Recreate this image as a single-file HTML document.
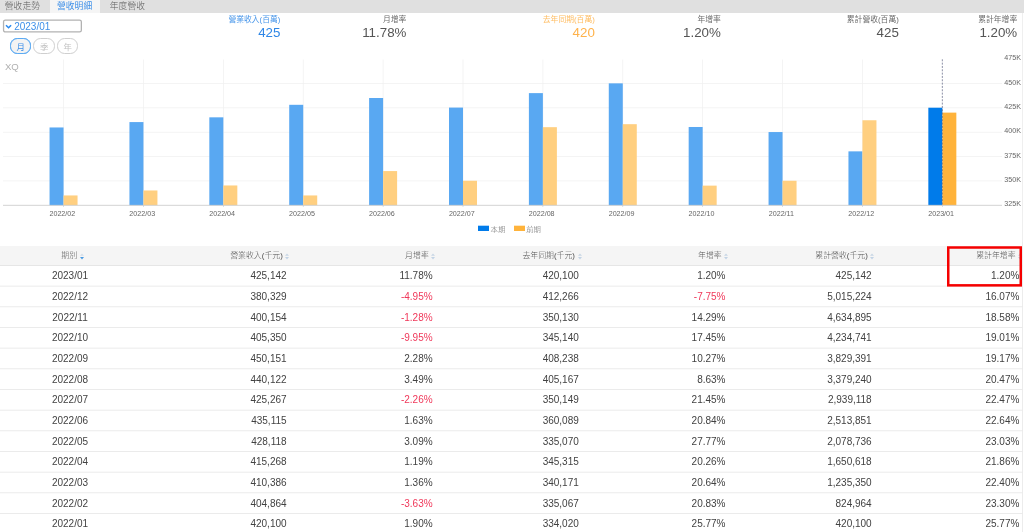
<!DOCTYPE html>
<html lang="zh-Hant"><head><meta charset="utf-8"><title>營收明細</title>
<style>
html,body{margin:0;padding:0;}
body{width:1024px;height:532px;overflow:hidden;background:#fff;position:relative;font-family:"Liberation Sans","Noto Sans CJK TC",sans-serif;color:#444;}
.tabs{position:absolute;left:0;top:0;width:1024px;height:13px;background:#e0e0e0;}
.tab{font-weight:300;position:absolute;top:0;height:13px;width:50px;text-align:center;font-size:8.75px;line-height:13px;color:#5a5a5a;letter-spacing:0.1px;}
.tab.on{background:#f5f5f5;color:#3d8fe8;font-weight:400;}
.sel{position:absolute;left:3px;top:20px;width:79px;height:12px;}
.selbox{position:absolute;left:0;top:14px;}
.sel span{position:absolute;left:11.2px;top:0.6px;font-size:10px;line-height:12px;color:#3d8fe8;}
.sel svg{position:absolute;left:1.8px;top:3.7px;}
.pill{position:absolute;top:38.2px;height:13.8px;width:19.4px;border:0.8px solid #cfcfcf;border-radius:7.6px;font-size:8.4px;line-height:16px;text-align:center;color:#c2c2c2;background:#fff;}
.pill.on{font-weight:400;border-color:#5aaaf3;background:#f3f3f3;color:#3d8fe8;box-shadow:0 0 0.5px #4a9df0;}
.stat{position:absolute;top:14.9px;text-align:right;white-space:nowrap;}
.stat .l{font-size:7.8px;line-height:10px;color:#6c6c6c;}
.stat .v{font-size:13.33px;line-height:16px;color:#555;margin-top:-0.2px;}
.stat.b .v{color:#2e86e6;}
.stat.b .l{color:#4896ea;}
.stat.o .v{color:#ffb24a;}
.stat.o .l{color:#ffbd63;}
.chart{position:absolute;left:0;top:50px;}
.chart text{font-family:"Liberation Sans","Noto Sans CJK TC",sans-serif;}
.xl{font-size:7.15px;fill:#666;}
.yl{font-size:7.15px;fill:#666;}
.xq{font-size:9.6px;fill:#b0b0b0;}
.lg{font-size:7.33px;fill:#666;font-weight:300;}
.th{position:absolute;left:0;top:246.2px;width:1022px;height:18.8px;background:#f5f5f5;}
.th .c{font-weight:300;position:absolute;top:0;height:18.8px;line-height:20px;font-size:7.9px;color:#505050;}
.si{display:inline-block;margin-left:2.6px;vertical-align:-2.2px;}
.tb{position:absolute;left:0;top:265.5px;width:1024px;}
.tr{position:absolute;left:0;width:1024px;height:20px;}
.ln{position:absolute;left:0;top:242px;}
.tr .c{position:absolute;top:0;height:20px;line-height:20px;font-size:10px;color:#424242;}
.c{text-align:right;white-space:nowrap;}
.c0{left:0;width:140px;text-align:center;}
.th .c0{left:0;width:145px;}
.c1{left:140px;width:146.6px;}
.c2{left:286px;width:146.6px;}
.c3{left:432px;width:146.8px;}
.c4{left:578px;width:147.5px;}
.c5{left:724px;width:147.7px;}
.c6{left:871px;width:148.4px;}
.th .c1,.th .c2,.th .c3,.th .c4,.th .c5,.th .c6{margin-left:2.8px;}
.tr .c.neg{color:#f0385a;}
.redb{position:absolute;left:940px;top:242px;}
.rb{position:absolute;left:1022px;top:13px;width:1px;height:229px;background:#efefef;}
</style></head><body>
<div class="tabs"><div class="tab" style="left:-2.6px">營收走勢</div><div class="tab on" style="left:49.6px">營收明細</div><div class="tab" style="left:102.4px">年度營收</div></div>
<svg class="selbox" width="90" height="24" viewBox="0 14 90 24"><rect x="3.55" y="20.05" width="77.8" height="11.9" rx="1.8" fill="#fff" stroke="#b2b2b2" stroke-width="1.3"/></svg>
<div class="sel"><svg width="8" height="6" viewBox="0 0 8 6"><path d="M1 1.2 L3.55 3.7 L6.1 1.2" fill="none" stroke="#2a8af0" stroke-width="1.6"/></svg><span>2023/01</span></div>
<div class="pill on" style="left:10px">月</div><div class="pill" style="left:33.4px">季</div><div class="pill" style="left:57px">年</div>
<div class="stat b" style="right:743.6px"><div class="l">營業收入(百萬)</div><div class="v">425</div></div>
<div class="stat" style="right:617.6px"><div class="l">月增率</div><div class="v">11.78%</div></div>
<div class="stat o" style="right:429.2px"><div class="l">去年同期(百萬)</div><div class="v">420</div></div>
<div class="stat" style="right:303.2px"><div class="l">年增率</div><div class="v">1.20%</div></div>
<div class="stat" style="right:125.2px"><div class="l">累計營收(百萬)</div><div class="v">425</div></div>
<div class="stat" style="right:6.8px"><div class="l">累計年增率</div><div class="v">1.20%</div></div>
<svg class="chart" width="1024" height="190" viewBox="0 50 1024 190">
<rect x="3" y="83.15" width="999" height="0.7" fill="#efefef"/>
<rect x="3" y="107.50" width="999" height="0.7" fill="#efefef"/>
<rect x="3" y="131.85" width="999" height="0.7" fill="#efefef"/>
<rect x="3" y="156.20" width="999" height="0.7" fill="#efefef"/>
<rect x="3" y="180.55" width="999" height="0.7" fill="#efefef"/>
<rect x="63.20" y="59.5" width="0.7" height="145.7" fill="#efefef"/>
<rect x="143.09" y="59.5" width="0.7" height="145.7" fill="#efefef"/>
<rect x="222.98" y="59.5" width="0.7" height="145.7" fill="#efefef"/>
<rect x="302.87" y="59.5" width="0.7" height="145.7" fill="#efefef"/>
<rect x="382.76" y="59.5" width="0.7" height="145.7" fill="#efefef"/>
<rect x="462.65" y="59.5" width="0.7" height="145.7" fill="#efefef"/>
<rect x="542.54" y="59.5" width="0.7" height="145.7" fill="#efefef"/>
<rect x="622.43" y="59.5" width="0.7" height="145.7" fill="#efefef"/>
<rect x="702.32" y="59.5" width="0.7" height="145.7" fill="#efefef"/>
<rect x="782.21" y="59.5" width="0.7" height="145.7" fill="#efefef"/>
<rect x="862.10" y="59.5" width="0.7" height="145.7" fill="#efefef"/>
<rect x="49.55" y="127.46" width="14.00" height="77.79" fill="#59a8f2"/>
<rect x="63.55" y="195.44" width="14.00" height="9.81" fill="#ffcf80"/>
<rect x="129.44" y="122.08" width="14.00" height="83.17" fill="#59a8f2"/>
<rect x="143.44" y="190.47" width="14.00" height="14.78" fill="#ffcf80"/>
<rect x="209.33" y="117.33" width="14.00" height="87.92" fill="#59a8f2"/>
<rect x="223.33" y="185.46" width="14.00" height="19.79" fill="#ffcf80"/>
<rect x="289.22" y="104.81" width="14.00" height="100.44" fill="#59a8f2"/>
<rect x="303.22" y="195.44" width="14.00" height="9.81" fill="#ffcf80"/>
<rect x="369.11" y="98.00" width="14.00" height="107.25" fill="#59a8f2"/>
<rect x="383.11" y="171.07" width="14.00" height="34.18" fill="#ffcf80"/>
<rect x="449.00" y="107.59" width="14.00" height="97.66" fill="#59a8f2"/>
<rect x="463.00" y="180.75" width="14.00" height="24.50" fill="#ffcf80"/>
<rect x="528.89" y="93.12" width="14.00" height="112.13" fill="#59a8f2"/>
<rect x="542.89" y="127.17" width="14.00" height="78.08" fill="#ffcf80"/>
<rect x="608.78" y="83.35" width="14.00" height="121.90" fill="#59a8f2"/>
<rect x="622.78" y="124.18" width="14.00" height="81.07" fill="#ffcf80"/>
<rect x="688.67" y="126.99" width="14.00" height="78.26" fill="#59a8f2"/>
<rect x="702.67" y="185.63" width="14.00" height="19.62" fill="#ffcf80"/>
<rect x="768.56" y="132.05" width="14.00" height="73.20" fill="#59a8f2"/>
<rect x="782.56" y="180.77" width="14.00" height="24.48" fill="#ffcf80"/>
<rect x="848.45" y="151.36" width="14.00" height="53.89" fill="#59a8f2"/>
<rect x="862.45" y="120.25" width="14.00" height="85.00" fill="#ffcf80"/>
<rect x="928.34" y="107.71" width="14.00" height="97.54" fill="#007bea"/>
<rect x="942.34" y="112.62" width="14.00" height="92.63" fill="#ffb33b"/>
<rect x="3" y="204.85" width="999" height="0.8" fill="#c8c8c8"/>
<rect x="63.20" y="205.25" width="0.7" height="1.6" fill="#c8c8c8"/>
<text x="62.35" y="216.2" text-anchor="middle" class="xl">2022/02</text>
<rect x="143.09" y="205.25" width="0.7" height="1.6" fill="#c8c8c8"/>
<text x="142.24" y="216.2" text-anchor="middle" class="xl">2022/03</text>
<rect x="222.98" y="205.25" width="0.7" height="1.6" fill="#c8c8c8"/>
<text x="222.13" y="216.2" text-anchor="middle" class="xl">2022/04</text>
<rect x="302.87" y="205.25" width="0.7" height="1.6" fill="#c8c8c8"/>
<text x="302.02" y="216.2" text-anchor="middle" class="xl">2022/05</text>
<rect x="382.76" y="205.25" width="0.7" height="1.6" fill="#c8c8c8"/>
<text x="381.91" y="216.2" text-anchor="middle" class="xl">2022/06</text>
<rect x="462.65" y="205.25" width="0.7" height="1.6" fill="#c8c8c8"/>
<text x="461.80" y="216.2" text-anchor="middle" class="xl">2022/07</text>
<rect x="542.54" y="205.25" width="0.7" height="1.6" fill="#c8c8c8"/>
<text x="541.69" y="216.2" text-anchor="middle" class="xl">2022/08</text>
<rect x="622.43" y="205.25" width="0.7" height="1.6" fill="#c8c8c8"/>
<text x="621.58" y="216.2" text-anchor="middle" class="xl">2022/09</text>
<rect x="702.32" y="205.25" width="0.7" height="1.6" fill="#c8c8c8"/>
<text x="701.47" y="216.2" text-anchor="middle" class="xl">2022/10</text>
<rect x="782.21" y="205.25" width="0.7" height="1.6" fill="#c8c8c8"/>
<text x="781.36" y="216.2" text-anchor="middle" class="xl">2022/11</text>
<rect x="862.10" y="205.25" width="0.7" height="1.6" fill="#c8c8c8"/>
<text x="861.25" y="216.2" text-anchor="middle" class="xl">2022/12</text>
<rect x="941.99" y="205.25" width="0.7" height="1.6" fill="#c8c8c8"/>
<text x="941.14" y="216.2" text-anchor="middle" class="xl">2023/01</text>
<line x1="942.34" y1="59.3" x2="942.34" y2="205.25" stroke="#5a607f" stroke-width="0.7" stroke-dasharray="2 1.33"/>
<text x="1004.3" y="59.75" class="yl">475K</text>
<text x="1004.3" y="84.60" class="yl">450K</text>
<text x="1004.3" y="108.95" class="yl">425K</text>
<text x="1004.3" y="133.30" class="yl">400K</text>
<text x="1004.3" y="157.65" class="yl">375K</text>
<text x="1004.3" y="182.00" class="yl">350K</text>
<text x="1004.3" y="206.35" class="yl">325K</text>
<text x="4.9" y="69.9" class="xq">XQ</text>
<rect x="478" y="225.7" width="11" height="5.3" fill="#007bea"/>
<text x="490.6" y="231.6" class="lg">本期</text>
<rect x="514" y="225.7" width="11" height="5.3" fill="#ffb33b"/>
<text x="526.3" y="231.6" class="lg">前期</text>
</svg>
<div class="th"><div class="c c0"><span>期別</span><svg class="si" width="4" height="7" viewBox="0 0 4 7"><path d="M0 2.7 L2 0.5 L4 2.7Z" fill="#d3dde8"/><path d="M0 3.9 L2 6.6 L4 3.9Z" fill="#4a9be2"/></svg></div><div class="c c1"><span>營業收入(千元)</span><svg class="si" width="4" height="7" viewBox="0 0 4 7"><path d="M0 2.7 L2 0.5 L4 2.7Z" fill="#c8d6e5"/><path d="M0 3.9 L2 6.6 L4 3.9Z" fill="#c2d3e5"/></svg></div><div class="c c2"><span>月增率</span><svg class="si" width="4" height="7" viewBox="0 0 4 7"><path d="M0 2.7 L2 0.5 L4 2.7Z" fill="#c8d6e5"/><path d="M0 3.9 L2 6.6 L4 3.9Z" fill="#c2d3e5"/></svg></div><div class="c c3"><span>去年同期(千元)</span><svg class="si" width="4" height="7" viewBox="0 0 4 7"><path d="M0 2.7 L2 0.5 L4 2.7Z" fill="#c8d6e5"/><path d="M0 3.9 L2 6.6 L4 3.9Z" fill="#c2d3e5"/></svg></div><div class="c c4"><span>年增率</span><svg class="si" width="4" height="7" viewBox="0 0 4 7"><path d="M0 2.7 L2 0.5 L4 2.7Z" fill="#c8d6e5"/><path d="M0 3.9 L2 6.6 L4 3.9Z" fill="#c2d3e5"/></svg></div><div class="c c5"><span>累計營收(千元)</span><svg class="si" width="4" height="7" viewBox="0 0 4 7"><path d="M0 2.7 L2 0.5 L4 2.7Z" fill="#c8d6e5"/><path d="M0 3.9 L2 6.6 L4 3.9Z" fill="#c2d3e5"/></svg></div><div class="c c6"><span>累計年增率</span><svg class="si" width="4" height="7" viewBox="0 0 4 7"><path d="M0 2.7 L2 0.5 L4 2.7Z" fill="#c8d6e5"/><path d="M0 3.9 L2 6.6 L4 3.9Z" fill="#c2d3e5"/></svg></div></div>
<div class="tb">
<div class="tr" style="top:0.90px"><div class="c c0">2023/01</div><div class="c c1">425,142</div><div class="c c2">11.78%</div><div class="c c3">420,100</div><div class="c c4">1.20%</div><div class="c c5">425,142</div><div class="c c6">1.20%</div></div>
<div class="tr" style="top:21.57px"><div class="c c0">2022/12</div><div class="c c1">380,329</div><div class="c c2 neg">-4.95%</div><div class="c c3">412,266</div><div class="c c4 neg">-7.75%</div><div class="c c5">5,015,224</div><div class="c c6">16.07%</div></div>
<div class="tr" style="top:42.24px"><div class="c c0">2022/11</div><div class="c c1">400,154</div><div class="c c2 neg">-1.28%</div><div class="c c3">350,130</div><div class="c c4">14.29%</div><div class="c c5">4,634,895</div><div class="c c6">18.58%</div></div>
<div class="tr" style="top:62.91px"><div class="c c0">2022/10</div><div class="c c1">405,350</div><div class="c c2 neg">-9.95%</div><div class="c c3">345,140</div><div class="c c4">17.45%</div><div class="c c5">4,234,741</div><div class="c c6">19.01%</div></div>
<div class="tr" style="top:83.58px"><div class="c c0">2022/09</div><div class="c c1">450,151</div><div class="c c2">2.28%</div><div class="c c3">408,238</div><div class="c c4">10.27%</div><div class="c c5">3,829,391</div><div class="c c6">19.17%</div></div>
<div class="tr" style="top:104.25px"><div class="c c0">2022/08</div><div class="c c1">440,122</div><div class="c c2">3.49%</div><div class="c c3">405,167</div><div class="c c4">8.63%</div><div class="c c5">3,379,240</div><div class="c c6">20.47%</div></div>
<div class="tr" style="top:124.92px"><div class="c c0">2022/07</div><div class="c c1">425,267</div><div class="c c2 neg">-2.26%</div><div class="c c3">350,149</div><div class="c c4">21.45%</div><div class="c c5">2,939,118</div><div class="c c6">22.47%</div></div>
<div class="tr" style="top:145.59px"><div class="c c0">2022/06</div><div class="c c1">435,115</div><div class="c c2">1.63%</div><div class="c c3">360,089</div><div class="c c4">20.84%</div><div class="c c5">2,513,851</div><div class="c c6">22.64%</div></div>
<div class="tr" style="top:166.26px"><div class="c c0">2022/05</div><div class="c c1">428,118</div><div class="c c2">3.09%</div><div class="c c3">335,070</div><div class="c c4">27.77%</div><div class="c c5">2,078,736</div><div class="c c6">23.03%</div></div>
<div class="tr" style="top:186.93px"><div class="c c0">2022/04</div><div class="c c1">415,268</div><div class="c c2">1.19%</div><div class="c c3">345,315</div><div class="c c4">20.26%</div><div class="c c5">1,650,618</div><div class="c c6">21.86%</div></div>
<div class="tr" style="top:207.60px"><div class="c c0">2022/03</div><div class="c c1">410,386</div><div class="c c2">1.36%</div><div class="c c3">340,171</div><div class="c c4">20.64%</div><div class="c c5">1,235,350</div><div class="c c6">22.40%</div></div>
<div class="tr" style="top:228.27px"><div class="c c0">2022/02</div><div class="c c1">404,864</div><div class="c c2 neg">-3.63%</div><div class="c c3">335,067</div><div class="c c4">20.83%</div><div class="c c5">824,964</div><div class="c c6">23.30%</div></div>
<div class="tr" style="top:248.94px"><div class="c c0">2022/01</div><div class="c c1">420,100</div><div class="c c2">1.90%</div><div class="c c3">334,020</div><div class="c c4">25.77%</div><div class="c c5">420,100</div><div class="c c6">25.77%</div></div>
</div>
<svg class="ln" width="1024" height="290" viewBox="0 242 1024 290">
<rect x="0" y="265.05" width="1022.4" height="0.75" fill="#dedede"/>
<rect x="0" y="285.72" width="1022.4" height="0.8" fill="#e6e6e6"/>
<rect x="0" y="306.39" width="1022.4" height="0.8" fill="#e6e6e6"/>
<rect x="0" y="327.06" width="1022.4" height="0.8" fill="#e6e6e6"/>
<rect x="0" y="347.73" width="1022.4" height="0.8" fill="#e6e6e6"/>
<rect x="0" y="368.40" width="1022.4" height="0.8" fill="#e6e6e6"/>
<rect x="0" y="389.07" width="1022.4" height="0.8" fill="#e6e6e6"/>
<rect x="0" y="409.74" width="1022.4" height="0.8" fill="#e6e6e6"/>
<rect x="0" y="430.41" width="1022.4" height="0.8" fill="#e6e6e6"/>
<rect x="0" y="451.08" width="1022.4" height="0.8" fill="#e6e6e6"/>
<rect x="0" y="471.75" width="1022.4" height="0.8" fill="#e6e6e6"/>
<rect x="0" y="492.42" width="1022.4" height="0.8" fill="#e6e6e6"/>
<rect x="0" y="513.09" width="1022.4" height="0.8" fill="#e6e6e6"/>
<rect x="0" y="533.76" width="1022.4" height="0.8" fill="#e6e6e6"/>
<rect x="1022.1" y="0" width="0.7" height="540" fill="#e4e4e4"/>
</svg>
<svg class="redb" width="84" height="50" viewBox="940 242 84 50"><rect x="948.25" y="247.5" width="72.5" height="37.85" fill="none" stroke="#f50000" stroke-width="2.5"/></svg>
<div class="rb"></div>
</body></html>
